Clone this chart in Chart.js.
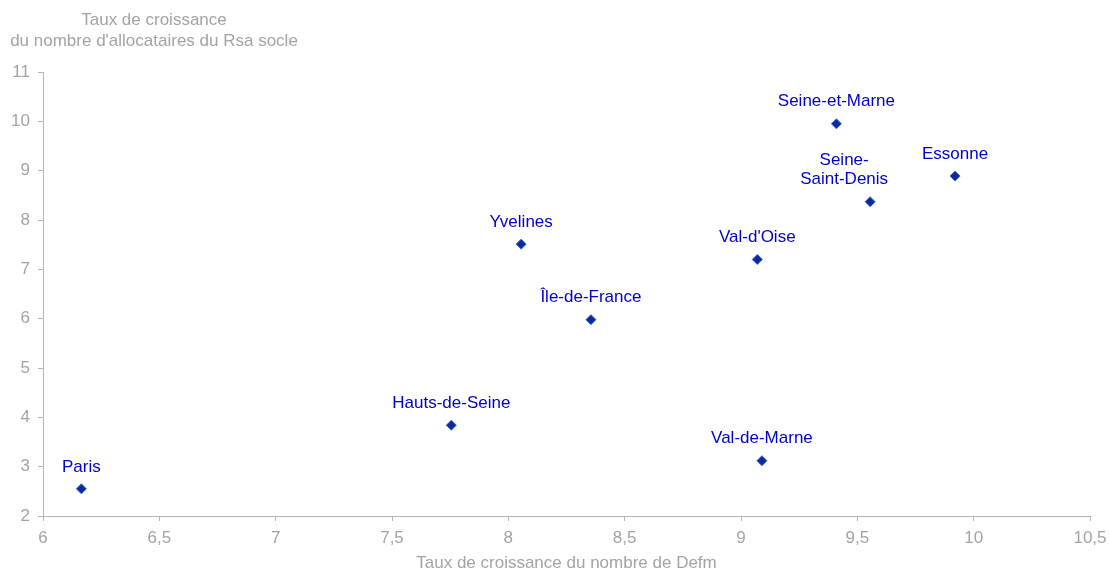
<!DOCTYPE html>
<html>
<head>
<meta charset="utf-8">
<script src="https://cdn.jsdelivr.net/npm/chart.js@4/dist/chart.umd.min.js"></script>
<style>
  html, body { margin: 0; padding: 0; background: #fff; }
  #wrap { width: 1109px; height: 568px; }
</style>
</head>
<body>
<div id="wrap"><canvas id="scatterChart" width="1109" height="568"></canvas></div>
<script>
// departements d'Ile-de-France
const departements = ["Paris", "Hauts-de-Seine", "Yvelines", "Île-de-France", "Val-d'Oise",
  "Val-de-Marne", "Seine-et-Marne", "Seine-Saint-Denis", "Essonne"];
// taux de croissance du nombre de Defm
const croissanceDefm = [6.165, 7.755, 8.055, 8.355, 9.07, 9.09, 9.41, 9.555, 9.92];
// taux de croissance du nombre d'allocataires du Rsa socle
const croissanceRsa = [2.55, 3.84, 7.51, 5.98, 7.20, 3.12, 9.95, 8.37, 8.89];
// libelles affiches (certains sur deux lignes)
const libelles = [["Paris"], ["Hauts-de-Seine"], ["Yvelines"], ["Île-de-France"], ["Val-d'Oise"],
  ["Val-de-Marne"], ["Seine-et-Marne"], ["Seine-", "Saint-Denis"], ["Essonne"]];

const grisAxe = "#b4b4b4";
const grisTexte = "#a3a3a3";
const police = "'Liberation Sans', Arial, sans-serif";

const points = croissanceDefm.map((x, i) => ({ x: x, y: croissanceRsa[i] }));

// etiquettes au-dessus des points + titre de l'axe vertical
const etiquettes = {
  id: "etiquettes",
  afterDatasetsDraw(chart) {
    const ctx = chart.ctx;
    const meta = chart.getDatasetMeta(0);
    ctx.save();
    ctx.font = "17px " + police;
    ctx.fillStyle = "#0000cc";
    ctx.textAlign = "center";
    ctx.textBaseline = "middle";
    meta.data.forEach((pt, i) => {
      const lignes = libelles[i];
      const dx = lignes.length > 1 ? -26 : 0;
      lignes.forEach((l, k) => {
        const y = pt.y - 22 - (lignes.length - 1 - k) * 19;
        ctx.fillText(l, pt.x + dx, y);
      });
    });
    ctx.fillStyle = grisTexte;
    ctx.fillText("Taux de croissance", 154, 20);
    ctx.fillText("du nombre d'allocataires du Rsa socle", 154, 41);
    ctx.restore();
  }
};

new Chart(document.getElementById("scatterChart").getContext("2d"), {
  type: "scatter",
  data: {
    datasets: [{
      label: "Départements",
      data: points,
      pointStyle: "rectRot",
      pointRadius: 5,
      pointHoverRadius: 5,
      backgroundColor: "#0a2a9e",
      borderColor: "#3a64d0",
      borderWidth: 1
    }]
  },
  options: {
    responsive: false,
    animation: false,
    layout: { padding: { top: 72, right: 19, left: 0, bottom: 0 } },
    plugins: { legend: { display: false }, tooltip: { enabled: false } },
    scales: {
      x: {
        type: "linear",
        min: 6,
        max: 10.5,
        afterFit: (s) => { s.height = 52; s.paddingRight = 0; s.paddingLeft = 0; },
        border: { color: grisAxe, width: 1 },
        grid: { drawOnChartArea: false, drawTicks: true, tickLength: 5, color: grisAxe },
        ticks: {
          stepSize: 0.5,
          color: grisTexte,
          font: { size: 17, family: police },
          padding: 7,
          callback: (v) => String(v).replace(".", ",")
        },
        title: {
          display: true,
          text: "Taux de croissance du nombre de Defm",
          color: grisTexte,
          font: { size: 17, family: police, lineHeight: 1 },
          padding: { top: 0, bottom: -4 }
        }
      },
      y: {
        type: "linear",
        min: 2,
        max: 11,
        afterFit: (s) => { s.width = 43; },
        border: { color: grisAxe, width: 1 },
        grid: { drawOnChartArea: false, drawTicks: true, tickLength: 5, color: grisAxe },
        ticks: {
          stepSize: 1,
          color: grisTexte,
          font: { size: 17, family: police },
          padding: 8
        }
      }
    }
  },
  plugins: [etiquettes]
});
</script>
</body>
</html>
